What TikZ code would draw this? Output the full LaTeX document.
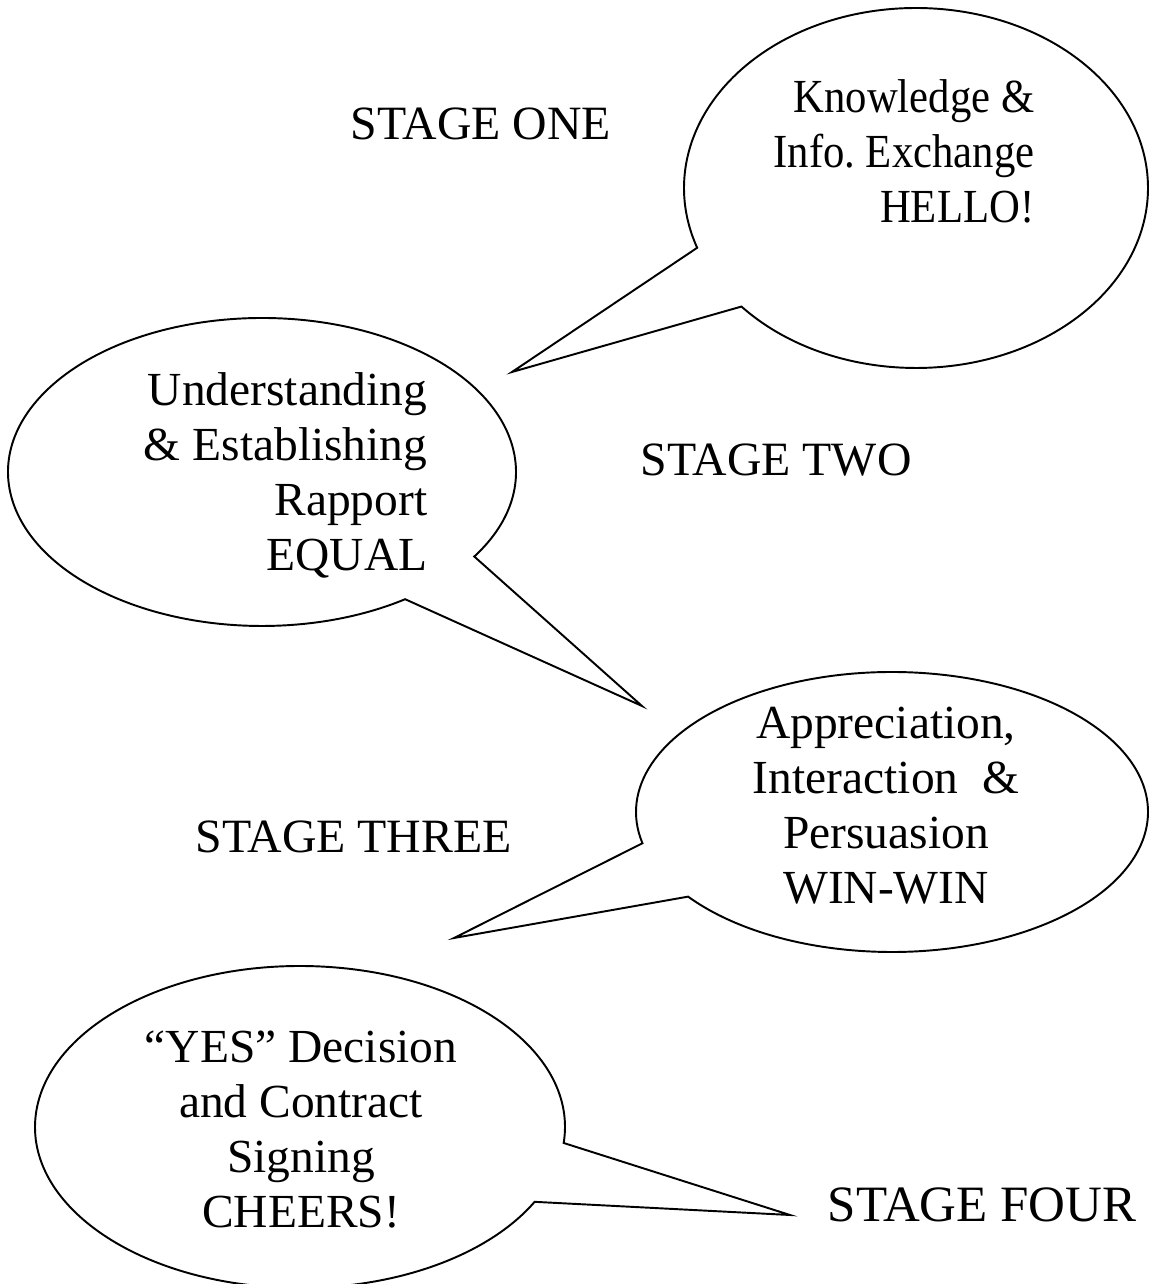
\documentclass[tikz,border=0pt]{standalone}
\usepackage{fontspec}
\setmainfont{Liberation Serif}
\newfontfamily\narrowserif[FakeStretch=0.9]{Liberation Serif}
\usetikzlibrary{calc}

\begin{document}
\begin{tikzpicture}[
    bubble/.style={draw=black,line width=0.55pt,line join=miter,fill=white},
    saying/.style={inner sep=0pt,font=\fontsize{13.5pt}{15.65pt}\selectfont},
    stagelabel/.style={inner sep=0pt,anchor=base west,font=\fontsize{13.6pt}{16pt}\selectfont}
  ]
  \useasboundingbox (0,0) rectangle (11.61,12.84);
  % centres of the bubbles and tips of their tails
  \coordinate (c1) at (9.16,10.96);
  \coordinate (c2) at (2.62,8.12);
  \coordinate (c3) at (8.92,4.72);
  \coordinate (c4) at (3.00,1.57);
  \coordinate (tip1) at (5.12,9.12);
  \coordinate (tip2) at (6.42,5.78);
  \coordinate (tip3) at (4.54,3.46);
  \coordinate (tip4) at (7.90,0.69);
  % speech bubbles
  \draw[bubble] ($(c1)+(221.2:2.32 and 1.80)$) arc[start angle=221.2,end angle=559.4,x radius=2.32,y radius=1.80] -- (tip1) -- cycle;
  \draw[bubble] ($(c2)+(-33.3:2.54 and 1.54)$) arc[start angle=-33.3,end angle=304.3,x radius=2.54,y radius=1.54] -- (tip2) -- cycle;
  \draw[bubble] ($(c3)+(217.2:2.56 and 1.40)$) arc[start angle=217.2,end angle=552.9,x radius=2.56,y radius=1.40] -- (tip3) -- cycle;
  \draw[bubble] ($(c4)+(-5.7:2.65 and 1.61)$) arc[start angle=-5.7,end angle=332.3,x radius=2.65,y radius=1.61] -- (tip4) -- cycle;
  % what is said
  \node[saying,font=\narrowserif\fontsize{13.5pt}{15.65pt}\selectfont,anchor=east,align=right] (say1) at (10.35,11.33) {Knowledge \&\\Info.\ Exchange\\HELLO!};
  \node[saying,anchor=east,align=right] (say2) at (4.28,8.09) {Understanding\\\& Establishing\\Rapport\\EQUAL};
  \node[saying,align=center] (say3) at (8.86,4.78) {Appreciation,\\Interaction~~\&\\Persuasion\\WIN-WIN};
  \node[saying,align=center] (say4) at (3.01,1.54) {``YES'' Decision\\and Contract\\Signing\\CHEERS!};
  % stages
  \node[stagelabel] (one) at (3.50,11.44) {STAGE ONE};
  \node[stagelabel] (two) at (6.40,8.08) {STAGE TWO};
  \node[stagelabel] (three) at (1.95,4.31) {STAGE THREE};
  \node[stagelabel,font=\fontsize{14.5pt}{17pt}\selectfont] (four) at (8.27,0.62) {STAGE FOUR};
\end{tikzpicture}
\end{document}
